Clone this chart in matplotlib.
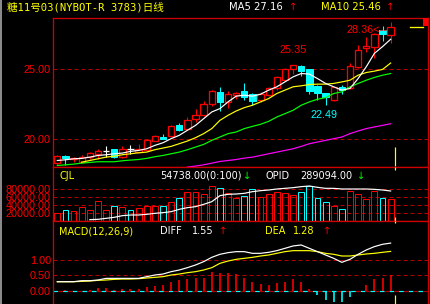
import matplotlib
matplotlib.use('Agg')
import matplotlib.pyplot as plt
from matplotlib.patches import Rectangle
from matplotlib.lines import Line2D
import numpy as np

W, H = 430, 304
def fx(px): return px / W
def fy(py): return 1 - py / H

# ---------------- data ----------------
title = "糖11号03(NYBOT-R 3783)日线"
opens  = [18.30, 18.78, 18.60, 18.37, 18.73, 18.97, 19.14, 19.28, 18.73, 19.33,
          19.12, 19.26, 19.90, 20.20, 20.24, 21.05, 20.72, 21.46, 21.72, 22.51,
          23.40, 22.68, 23.16, 23.44, 23.23, 22.80, 23.16, 23.64, 24.28, 25.00,
          25.25, 25.00, 23.83, 23.33, 22.80, 23.71, 23.64, 25.19, 26.51, 26.63,
          27.82, 27.46]
highs  = [18.85, 18.85, 18.73, 18.88, 19.09, 19.28, 19.50, 19.30, 19.50, 19.57,
          19.69, 20.00, 20.33, 20.38, 21.00, 21.17, 21.60, 22.20, 22.75, 23.56,
          23.76, 23.47, 23.40, 24.00, 23.33, 23.40, 23.76, 24.55, 25.12, 25.35,
          25.30, 25.05, 23.88, 23.35, 23.76, 23.88, 25.43, 26.75, 27.34, 27.63,
          28.11, 28.36]
lows   = [18.20, 18.20, 18.37, 18.30, 18.61, 18.60, 18.73, 18.70, 18.66, 18.97,
          19.00, 19.20, 19.86, 20.00, 20.17, 20.57, 20.65, 21.24, 21.65, 22.39,
          22.03, 22.27, 22.90, 22.80, 22.44, 22.68, 23.09, 23.52, 24.23, 24.70,
          24.50, 23.28, 22.80, 22.49, 22.75, 23.28, 23.57, 25.12, 26.27, 25.79,
          27.06, 26.90]
closes = [18.78, 18.64, 18.66, 18.76, 19.04, 19.19, 19.14, 18.73, 19.33, 19.33,
          19.28, 19.93, 20.22, 20.05, 20.93, 20.69, 21.36, 21.72, 22.56, 23.44,
          22.68, 23.23, 23.32, 23.04, 22.75, 23.23, 23.64, 24.43, 25.00, 25.29,
          24.88, 23.47, 23.33, 23.04, 23.71, 23.52, 25.24, 26.39, 26.67, 27.54,
          27.54, 28.01]
nan = float('nan')
ma5  = [18.49, 18.54, 18.61, 18.64, 18.73, 18.85, 18.90, 18.97, 19.02, 19.14,
        19.21, 19.33, 19.57, 19.76, 20.05, 20.29, 20.65, 21.00, 21.48, 21.96,
        22.20, 22.68, 23.09, 23.16, 23.09, 23.23, 23.52, 23.76, 24.11, 24.47,
        24.71, 24.67, 24.35, 24.00, 23.76, 23.52, 23.64, 24.35, 25.19, 26.15,
        26.63, 27.16]
ma10 = [nan, nan, nan, 18.37, 18.49, 18.61, 18.73, 18.80, 18.90, 18.97,
        19.04, 19.09, 19.26, 19.38, 19.50, 19.69, 19.88, 20.12, 20.41, 20.77,
        21.36, 21.72, 22.03, 22.27, 22.44, 22.68, 22.92, 23.28, 23.52, 23.76,
        23.83, 23.92, 23.95, 23.95, 24.00, 24.11, 24.23, 24.59, 24.78, 24.88,
        25.00, 25.46]
ma20 = [18.13, 18.18, 18.23, 18.30, 18.35, 18.40, 18.40, 18.40, 18.47, 18.52,
        18.56, 18.64, 18.76, 18.85, 18.97, 19.09, 19.26, 19.45, 19.64, 19.93,
        20.17, 20.41, 20.53, 20.77, 20.93, 21.08, 21.29, 21.60, 21.84, 22.08,
        22.44, 22.68, 22.87, 22.99, 23.28, 23.40, 23.76, 24.00, 24.23, 24.43,
        24.59, 24.71]
ma60 = [nan]*16 + [18.02, 18.09, 18.18, 18.30,
        18.42, 18.49, 18.56, 18.66, 18.73, 18.85, 18.97, 19.09, 19.21, 19.33,
        19.50, 19.69, 19.81, 19.93, 20.05, 20.17, 20.41, 20.60, 20.77, 20.89,
        21.00, 21.12]
volume = [19167, 26667, 24167, 34167, 26667, 50000, 26667, 36667, 34167, 26667,
          31667, 36667, 36667, 36667, 46667, 56667, 71667, 71667, 66667, 87500,
          81667, 69167, 58333, 62500, 79167, 59167, 66667, 71667, 70000, 65000,
          71667, 88333, 56667, 46667, 38333, 30000, 75000, 66667, 55000, 75000,
          56667, 54738]
vol_up = [1, 0, 1, 1, 1, 1, 1, 0, 1, 0,
          1, 1, 1, 0, 1, 0, 1, 1, 1, 1,
          0, 1, 1, 0, 0, 1, 1, 1, 1, 1,
          0, 0, 0, 0, 1, 0, 1, 1, 1, 1,
          0, 1]
opid = [nan]*4 + [226572, 227299, 229480, 231661, 235296, 236750,
        236750, 238204, 240385, 241839, 244020, 249109, 252744, 254925, 260014, 265830,
        278916, 281824, 282551, 284005, 287640, 289821, 291275, 293456, 294910, 296364,
        298545, 299999, 297091, 294910, 294910, 293456, 293456, 293456, 293456, 292729,
        291275, 289094]
diff = [0.293, 0.293, 0.293, 0.326, 0.326, 0.348, 0.402, 0.402, 0.402, 0.402,
        0.402, 0.457, 0.511, 0.543, 0.620, 0.674, 0.750, 0.837, 0.946, 1.087,
        1.185, 1.239, 1.272, 1.272, 1.217, 1.217, 1.250, 1.304, 1.380, 1.457,
        1.489, 1.380, 1.272, 1.163, 1.054, 0.924, 1.022, 1.185, 1.326, 1.435,
        1.511, 1.55]
dea  = [0.293, 0.293, 0.293, 0.304, 0.315, 0.337, 0.348, 0.370, 0.380, 0.380,
        0.391, 0.413, 0.435, 0.457, 0.511, 0.543, 0.587, 0.620, 0.674, 0.750,
        0.891, 0.967, 1.022, 1.054, 1.087, 1.130, 1.163, 1.217, 1.272, 1.304,
        1.304, 1.304, 1.272, 1.217, 1.185, 1.130, 1.130, 1.163, 1.196, 1.217,
        1.250, 1.28]
macd = [0.0, 0.01, 0.0, 0.0, 0.02, 0.076, 0.076, 0.02, 0.04, 0.04,
        0.05, 0.13, 0.15, 0.18, 0.27, 0.35, 0.37, 0.40, 0.43, 0.62,
        0.59, 0.57, 0.53, 0.40, 0.29, 0.22, 0.18, 0.26, 0.29, 0.37,
        0.29, 0.04, -0.14, -0.30, -0.36, -0.36, -0.22, -0.01, 0.18, 0.37,
        0.43, 0.51]
price_ticks = [20.0, 25.0]
vol_ticks = [20000, 40000, 60000, 80000]
macd_ticks = [0.0, 0.5, 1.0]
hi_label = "25.35"
lo_label = "22.49"
top_label = "28.36<--"

# ---------------- style ----------------
RED = '#ff0000'
CYAN = '#00ffff'
GRID = '#b40000'
FRAME = '#d00000'
NUMF = ['Liberation Sans', 'DejaVu Sans']
NUMS = 7.8
PX = 0.72  # 1 pixel in points

n = len(closes)
xs = np.arange(n)
x0px, dx = 57.3, 8.13
xlim = ((53 - x0px) / dx, (428 - x0px) / dx)

fig = plt.figure(figsize=(W / 100, H / 100), dpi=100, facecolor='black')

def make_ax(top, bottom):
    ax = fig.add_axes([fx(53), fy(bottom), fx(428) - fx(53), (bottom - top) / H])
    ax.set_facecolor('black')
    ax.set_xlim(*xlim)
    ax.set_xticks([])
    for s in ax.spines.values():
        s.set_color(FRAME)
        s.set_linewidth(1.3 * PX)
    ax.tick_params(axis='y', length=0, pad=1.5, colors=RED)
    return ax

ax1 = make_ax(18, 166.5)
ax2 = make_ax(166.5, 221)
ax3 = make_ax(221, 304)
ax3.spines['bottom'].set_visible(False)

# gray strip at far left
fig.patches.append(Rectangle((0, 0), fx(2.2), 1, transform=fig.transFigure,
                             facecolor='#8a8a8a', edgecolor='none'))

# ---------- price panel ----------
ax1.set_ylim(18.06, 28.68)
for t in price_ticks:
    ax1.axhline(t, color=GRID, lw=PX, ls=(0, (4, 3)))
ax1.set_yticks(price_ticks)
ax1.set_yticklabels(['%.2f' % t for t in price_ticks], family=NUMF, fontsize=NUMS, color=RED)

bw = 0.78
for i in range(n):
    o, h, l, c = opens[i], highs[i], lows[i], closes[i]
    if c > o:
        ax1.add_patch(Rectangle((i - bw / 2, o), bw, c - o, facecolor='black',
                                edgecolor=RED, lw=1.3 * PX, zorder=3))
        ax1.vlines(i, c, h, color=RED, lw=1.1 * PX, zorder=3)
        ax1.vlines(i, l, o, color=RED, lw=1.1 * PX, zorder=3)
    elif c < o:
        ax1.vlines(i, l, h, color=CYAN, lw=1.1 * PX, zorder=3)
        ax1.add_patch(Rectangle((i - bw / 2, c), bw, o - c, facecolor=CYAN,
                                edgecolor=CYAN, lw=1.0 * PX, zorder=3))
    else:
        ax1.vlines(i, l, h, color='white', lw=1.1 * PX, zorder=3)
        ax1.hlines(o, i - bw / 2, i + bw / 2, color='white', lw=1.3 * PX, zorder=3)

ax1.plot(xs, ma60, color='#ff00ff', lw=1.2 * PX, zorder=4)
ax1.plot(xs, ma20, color='#00ff00', lw=1.2 * PX, zorder=4)
ax1.plot(xs, ma10, color='#ffff00', lw=1.2 * PX, zorder=4)
ax1.plot(xs, ma5, color='white', lw=1.2 * PX, zorder=4)

ihi = 29
ilo = 33
ax1.annotate(hi_label, (ihi, highs[ihi]), xytext=(0, 7), textcoords='offset points',
             ha='center', va='bottom', color=RED, family=NUMF, fontsize=NUMS)
ax1.annotate(lo_label, (ilo, lows[ilo]), xytext=(-1, -4), textcoords='offset points',
             ha='center', va='top', color=CYAN, family=NUMF, fontsize=NUMS)
ax1.annotate(top_label, (n - 1, highs[n - 1]), xytext=(-2, -2), textcoords='offset points',
             ha='right', va='top', color=RED, family=NUMF, fontsize=NUMS)

cur = n - 1 + 0.55
ax1.vlines(cur, 18.06, 19.43, color='#ffff00', lw=1.2 * PX)

# ---------- volume panel ----------
ax2.set_ylim(0, 136250)
for t in vol_ticks:
    ax2.axhline(t, color=GRID, lw=PX, ls=(0, (4, 3)))
ax2.set_yticks(vol_ticks)
ax2.set_yticklabels(['%.2f' % t for t in vol_ticks], family=NUMF, fontsize=NUMS, color=RED)
vw = 0.72
for i in range(n):
    col = RED if vol_up[i] else CYAN
    ax2.add_patch(Rectangle((i - vw / 2, 0), vw, volume[i], facecolor='none',
                            edgecolor=col, lw=1.0 * PX, zorder=3))
ax2b = ax2.twinx()
ax2b.set_position(ax2.get_position())
ax2b.set_ylim(223664, 342528)
ax2b.set_xlim(*xlim)
ax2b.axis('off')
ax2b.plot(xs, opid, color='white', lw=1.2 * PX, zorder=4)
ax2.vlines(cur, 128000, 136250, color='#ffff00', lw=1.2 * PX, zorder=5)
ax2.vlines(cur, 0, 10000, color='#ffff00', lw=1.2 * PX, zorder=5)

# ---------- MACD panel ----------
ax3.set_ylim(-0.433, 2.27)
for t in macd_ticks[1:]:
    ax3.axhline(t, color=GRID, lw=PX, ls=(0, (4, 3)))
ax3.axhline(0, color=CYAN, lw=1.2 * PX, ls=(0, (4, 4)), zorder=2)
ax3.axhline(0, color=GRID, lw=1.2 * PX, ls=(4, (4, 4)), zorder=2)
ax3.set_yticks(macd_ticks)
ax3.set_yticklabels(['%.2f' % t for t in macd_ticks], family=NUMF, fontsize=NUMS, color=RED)
for i in range(n):
    v = macd[i]
    if v != 0:
        ax3.vlines(i, 0, v, color=RED if v > 0 else CYAN, lw=1.6 * PX, zorder=3)
ax3.plot(xs, dea, color='#ffff00', lw=1.2 * PX, zorder=4)
ax3.plot(xs, diff, color='white', lw=1.2 * PX, zorder=4)
ax3.vlines(cur, 2.2, 2.27, color='#ffff00', lw=1.2 * PX, zorder=5)
ax3.vlines(cur, -0.433, -0.14, color='#ffff00', lw=1.2 * PX, zorder=5)

# ---------- header texts ----------
TXT = dict(va='center', fontsize=7.2, family=['DejaVu Sans'])
fig.text(fx(7), fy(7.5), title, color='#ffff00', va='center', fontsize=7.6,
         family=['DejaVu Sans Mono', 'Noto Sans CJK SC'])
fig.text(fx(229), fy(7.5), "MA5 %.2f" % ma5[-1], color='white', **TXT)
fig.text(fx(289), fy(7.5), "↑", color=RED, **TXT)
fig.text(fx(321), fy(7.5), "MA10 %.2f" % ma10[-1], color='#ffff00', **TXT)
fig.text(fx(386), fy(7.5), "↑", color=RED, **TXT)

# top-right decorations
fig.patches.append(Rectangle((fx(423), fy(26)), fx(5), 8 / H, transform=fig.transFigure,
                             facecolor=RED, edgecolor='none'))
fig.lines.append(Line2D([fx(410), fx(423)], [fy(27), fy(27)], transform=fig.transFigure,
                        color='#ffff00', lw=1.3 * PX))

# volume panel texts
TXT2 = dict(va='center', fontsize=7.0, family=['DejaVu Sans'])
fig.text(fx(59), fy(176), "CJL", color='#ffff00', **TXT2)
fig.text(fx(160), fy(176), "%.2f(0:100)" % volume[-1], color='white', **TXT2)
fig.text(fx(243), fy(176), "↓", color='#00ff00', **TXT2)
fig.text(fx(265), fy(176), "OPID", color='white', **TXT2)
fig.text(fx(300), fy(176), "%.2f" % opid[-1], color='white', **TXT2)
fig.text(fx(357), fy(176), "↓", color='#00ff00', **TXT2)

# MACD panel texts
fig.text(fx(59), fy(231), "MACD(12,26,9)", color='#ffff00', **TXT2)
fig.text(fx(160), fy(231), "DIFF", color='white', **TXT2)
fig.text(fx(192), fy(231), "%.2f" % diff[-1], color='white', **TXT2)
fig.text(fx(219), fy(231), "↑", color=RED, **TXT2)
fig.text(fx(265), fy(231), "DEA", color='#ffff00', **TXT2)
fig.text(fx(293), fy(231), "%.2f" % dea[-1], color='#ffff00', **TXT2)
fig.text(fx(323), fy(231), "↑", color=RED, **TXT2)

fig.savefig('out.png', dpi=100, facecolor='black')
